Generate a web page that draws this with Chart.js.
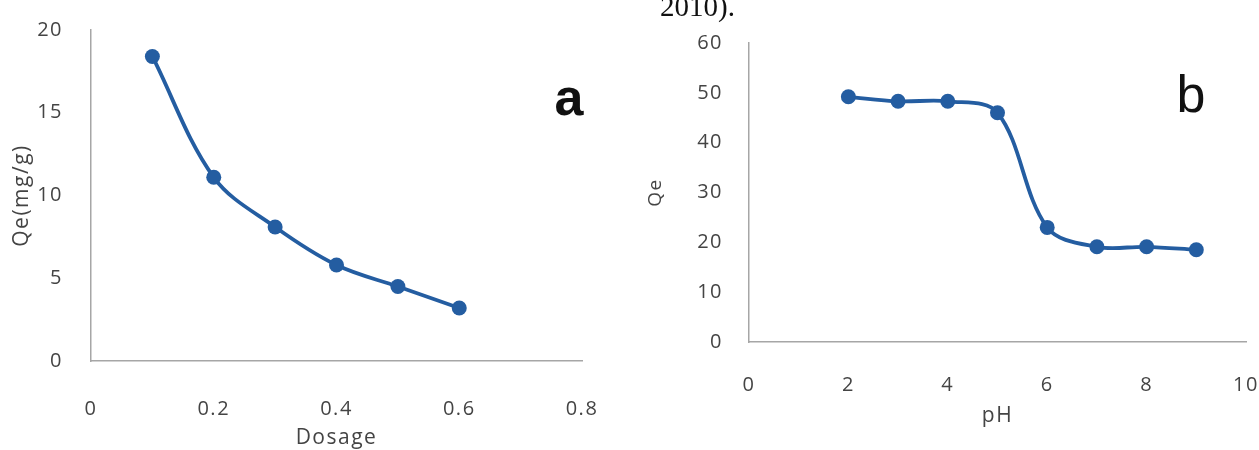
<!DOCTYPE html>
<html>
<head>
<meta charset="utf-8">
<title>Qe vs dosage and pH</title>
<script src="https://cdn.jsdelivr.net/npm/chart.js@4.4.1/dist/chart.umd.min.js"></script>
<style>
  html, body { margin: 0; padding: 0; background: #ffffff; }
  body { width: 1259px; height: 450px; position: relative; overflow: hidden; }
  .panel { position: absolute; top: 0; height: 450px; }
  #panelA { left: 0; width: 630px; }
  #panelB { left: 630px; width: 629px; }
</style>
</head>
<body>
<div class="panel" id="panelA"><canvas id="chartA" width="630" height="450"></canvas></div>
<div class="panel" id="panelB"><canvas id="chartB" width="629" height="450"></canvas></div>
<script>
// Panel a: adsorption capacity against adsorbent dosage
const dosage = [0.1, 0.2, 0.3, 0.4, 0.5, 0.6];
const qeDosage = [18.4, 11.1, 8.1, 5.8, 4.5, 3.2];
const dosageTicks = [0, 0.2, 0.4, 0.6, 0.8];
const qeDosageTicks = [0, 5, 10, 15, 20];

// Panel b: adsorption capacity against pH
const ph = [2, 3, 4, 5, 6, 7, 8, 9];
const qePh = [49.2, 48.3, 48.3, 46.0, 23.0, 19.1, 19.1, 18.5];
const phTicks = [0, 2, 4, 6, 8, 10];
const qePhTicks = [0, 10, 20, 30, 40, 50, 60];

const BLUE = '#245da1';
const AXIS = '#a6a6a6';
const TEXT = '#444444';
const FONT = "'Open Sans', 'Liberation Sans', sans-serif";

Chart.defaults.font.family = FONT;
Chart.defaults.color = TEXT;

function points(xs, ys) {
  return xs.map((x, i) => ({ x: x, y: ys[i] }));
}

// Slightly spaced-out axis lettering, plus large panel letters drawn on top
const panelText = {
  id: 'panelText',
  beforeDraw(chart) {
    chart.ctx.letterSpacing = '1.5px';
  },
  afterDraw(chart, args, opts) {
    const ctx = chart.ctx;
    ctx.save();
    ctx.letterSpacing = '0px';
    (opts.items || []).forEach(t => {
      ctx.font = t.font;
      ctx.fillStyle = t.color;
      ctx.textAlign = t.align || 'center';
      ctx.textBaseline = 'alphabetic';
      ctx.fillText(t.text, t.x, t.y);
    });
    ctx.restore();
  }
};

function makeChart(id, cfg) {
  return new Chart(document.getElementById(id), {
    type: 'scatter',
    data: {
      datasets: [{
        data: points(cfg.xs, cfg.ys),
        showLine: true,
        borderColor: BLUE,
        borderWidth: 3.8,
        tension: 0.35,
        pointRadius: 7.5,
        pointHoverRadius: 7.5,
        pointBackgroundColor: BLUE,
        pointBorderWidth: 0
      }]
    },
    plugins: [panelText],
    options: {
      responsive: false,
      animation: false,
      events: [],
      layout: { padding: cfg.padding },
      plugins: {
        legend: { display: false },
        tooltip: { enabled: false },
        panelText: { items: cfg.texts }
      },
      scales: {
        x: {
          type: 'linear',
          min: cfg.xTicks[0],
          max: cfg.xTicks[cfg.xTicks.length - 1],
          afterBuildTicks: s => { s.ticks = cfg.xTicks.map(v => ({ value: v })); },
          afterFit: s => { s.height = cfg.xHeight; s.paddingLeft = 0; s.paddingRight = 0; },
          grid: { display: false, drawTicks: false },
          border: { display: true, color: AXIS, width: 1.5 },
          ticks: { padding: cfg.xPad, font: { size: 20 }, color: TEXT, maxRotation: 0, autoSkip: false },
          title: { display: true, text: cfg.xTitle, font: { size: 21, lineHeight: 1.1 }, color: TEXT, padding: { top: 0, bottom: cfg.xTitlePad } }
        },
        y: {
          type: 'linear',
          min: cfg.yTicks[0],
          max: cfg.yTicks[cfg.yTicks.length - 1],
          afterBuildTicks: s => { s.ticks = cfg.yTicks.map(v => ({ value: v })); },
          afterFit: s => { s.width = cfg.yWidth; s.paddingTop = 0; s.paddingBottom = 0; },
          grid: { display: false, drawTicks: false },
          border: { display: true, color: AXIS, width: 1.5 },
          ticks: { padding: cfg.yPad, font: { size: 20 }, color: TEXT, autoSkip: false },
          title: { display: true, text: cfg.yTitle, font: { size: cfg.yTitleSize }, color: TEXT, padding: { top: cfg.yTitlePad, bottom: 0 } }
        }
      }
    }
  });
}

makeChart('chartA', {
  xs: dosage, ys: qeDosage,
  xTicks: dosageTicks, yTicks: qeDosageTicks,
  xTitle: 'Dosage', yTitle: 'Qe(mg/g)',
  padding: { left: 0, top: 30, right: 48, bottom: 0 },
  xHeight: 89, yWidth: 91,
  xPad: 36, yPad: 28,
  xTitlePad: 0, yTitlePad: 9, yTitleSize: 21,
  texts: [
    { text: 'a', x: 569, y: 115, font: "bold 52px 'Liberation Sans', Arial, sans-serif", color: '#111111' }
  ]
});

makeChart('chartB', {
  xs: ph, ys: qePh,
  xTicks: phTicks, yTicks: qePhTicks,
  xTitle: 'pH', yTitle: 'Qe',
  padding: { left: 0, top: 43, right: 13, bottom: 0 },
  xHeight: 108, yWidth: 119,
  xPad: 31, yPad: 26,
  xTitlePad: 22, yTitlePad: 14, yTitleSize: 19,
  texts: [
    { text: 'b', x: 561, y: 112, font: "52px 'Liberation Sans', Arial, sans-serif", color: '#111111' },
    { text: '2010).', x: 30, y: 16, align: 'left', font: "29px 'Liberation Serif', 'Times New Roman', serif", color: '#111111' }
  ]
});
</script>
</body>
</html>
